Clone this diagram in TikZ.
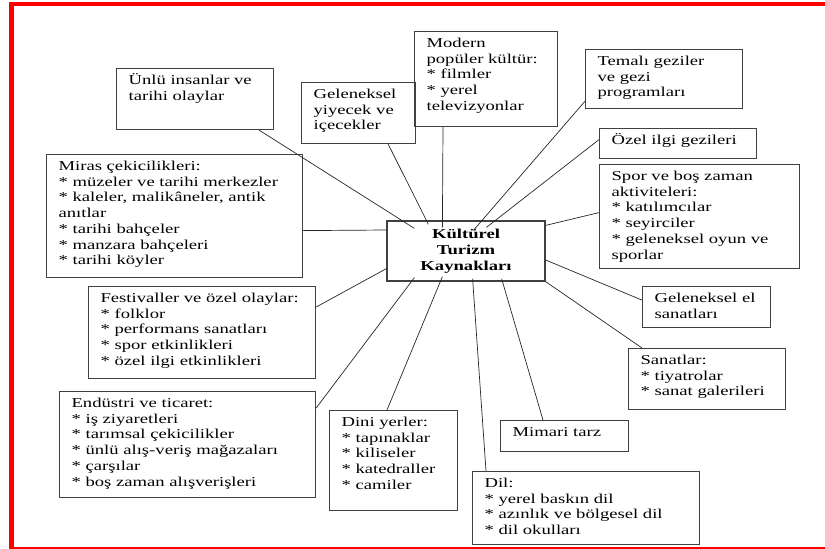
\documentclass[tikz,border=0pt]{standalone}
\usepackage{fontspec}
\setmainfont{Liberation Serif}[FakeStretch=1.37]
\usetikzlibrary{calc}
\def\kutu#1#2#3{\parbox[c][#2][t]{#1}{\begin{tabular}{@{}l@{}}#3\end{tabular}}}

\begin{document}
\begin{tikzpicture}[x=1pt, y=-1pt,
	every node/.style={font=\fontsize{13.6}{15.7}\selectfont},
	kaynak/.style={draw=black!75, line width=1.2pt, anchor=north west, inner xsep=12pt, inner ysep=5pt},
	bag/.style={draw=black!85, line width=0.7pt}]
			%%%%% START %%%%%
			\useasboundingbox (0,0) rectangle (825,549);
			\fill[red] (9,2) rectangle (13.5,548.7);
			\fill[red] (9,2) rectangle (825,6);
			\fill[red] (9,547.3) rectangle (825,548.7);
			
			\node[draw=black!75, line width=1.2pt, minimum width=158pt, minimum height=60pt, align=center,
				font=\fontsize{13.6}{16}\selectfont\bfseries] (merkez) at (466,251) {K\"ult\"urel\\Turizm\\Kaynakları};
			
			\node[kaynak] (unlu) at (116,68) {\kutu{133pt}{51pt}{Ünlü insanlar ve\\tarihi olaylar}};
			\node[kaynak] (yiyecek) at (301,82) {\kutu{90pt}{51pt}{Geleneksel\\yiyecek ve\\içecekler}};
			\node[kaynak] (modern) at (414,31) {\kutu{119pt}{85pt}{Modern\\popüler kültür:\\{}* filmler\\{}* yerel\\televizyonlar}};
			\node[kaynak] (temali) at (585,49) {\kutu{133pt}{49pt}{Temalı geziler\\ve gezi\\programları}};
			\node[kaynak] (ozel) at (599,128) {\kutu{133pt}{20pt}{Özel ilgi gezileri}};
			\node[kaynak] (spor) at (599,164) {\kutu{176pt}{94pt}{Spor ve boş zaman\\aktiviteleri:\\{}* katılımcılar\\{}* seyirciler\\{}* geleneksel oyun ve\\sporlar}};
			\node[kaynak] (miras) at (46,154) {\kutu{232pt}{113pt}{Miras çekicilikleri:\\{}* müzeler ve tarihi merkezler\\{}* kaleler, malikâneler, antik\\anıtlar\\{}* tarihi bahçeler\\{}* manzara bahçeleri\\{}* tarihi köyler}};
			\node[kaynak] (festival) at (88,286) {\kutu{203pt}{82pt}{Festivaller ve özel olaylar:\\{}* folklor\\{}* performans sanatları\\{}* spor etkinlikleri\\{}* özel ilgi etkinlikleri}};
			\node[kaynak] (endustri) at (59,391) {\kutu{232pt}{96pt}{Endüstri ve ticaret:\\{}* iş ziyaretleri\\{}* tarımsal çekicilikler\\{}* ünlü alış-veriş mağazaları\\{}* çarşılar\\{}* boş zaman alışverişleri}};
			\node[kaynak] (dini) at (329,410) {\kutu{104pt}{90pt}{Dini yerler:\\{}* tapınaklar\\{}* kiliseler\\{}* katedraller\\{}* camiler}};
			\node[kaynak] (elsanat) at (642,286) {\kutu{104pt}{31pt}{Geleneksel el\\sanatları}};
			\node[kaynak] (sanatlar) at (628,348) {\kutu{133pt}{51pt}{Sanatlar:\\{}* tiyatrolar\\{}* sanat galerileri}};
			\node[kaynak] (mimari) at (500,420) {\kutu{104pt}{21pt}{Mimari tarz}};
			\node[kaynak] (dil) at (472,471) {\kutu{203pt}{63pt}{Dil:\\{}* yerel baskın dil\\{}* azınlık ve bölgesel dil\\{}* dil okulları}};
			
			\draw[bag] ([xshift=-15pt]unlu.south east) -- ([xshift=28pt,yshift=-8pt]merkez.north west);
			\draw[bag] ([xshift=-28pt]yiyecek.south east) -- ([xshift=42pt,yshift=-4pt]merkez.north west);
			\draw[bag] ([xshift=29pt]modern.south west) -- ([xshift=56pt,yshift=-7pt]merkez.north west);
			\draw[bag] ([yshift=8pt]temali.south west) -- ([xshift=87pt,yshift=-10pt]merkez.north west);
			\draw[bag] ([yshift=4pt]ozel.west) -- ([xshift=100pt,yshift=-7pt]merkez.north west);
			\draw[bag] ([yshift=4pt]spor.west) -- ([yshift=-5pt]merkez.north east);
			\draw[bag] ([yshift=7pt]elsanat.west) -- ([yshift=-9pt]merkez.east);
			\draw[bag] ([xshift=14pt]sanatlar.north west) -- (merkez.south east);
			\draw[bag] ([xshift=43pt]mimari.north west) -- ([xshift=-44pt,yshift=3pt]merkez.south east);
			\draw[bag] ([xshift=14pt]dil.north west) -- ([xshift=-73pt,yshift=3pt]merkez.south east);
			\draw[bag] ([xshift=58pt]dini.north west) -- ([xshift=56pt,yshift=5pt]merkez.south west);
			\draw[bag] ([yshift=-17pt]endustri.north east) -- ([xshift=28pt,yshift=4pt]merkez.south west);
			\draw[bag] ([yshift=-21pt]festival.north east) -- ([yshift=13pt]merkez.south west);
			\draw[bag] ([yshift=-14.5pt]miras.east) -- ([yshift=21pt]merkez.west);
			%%%%% END %%%%%
\end{tikzpicture}
\end{document}
